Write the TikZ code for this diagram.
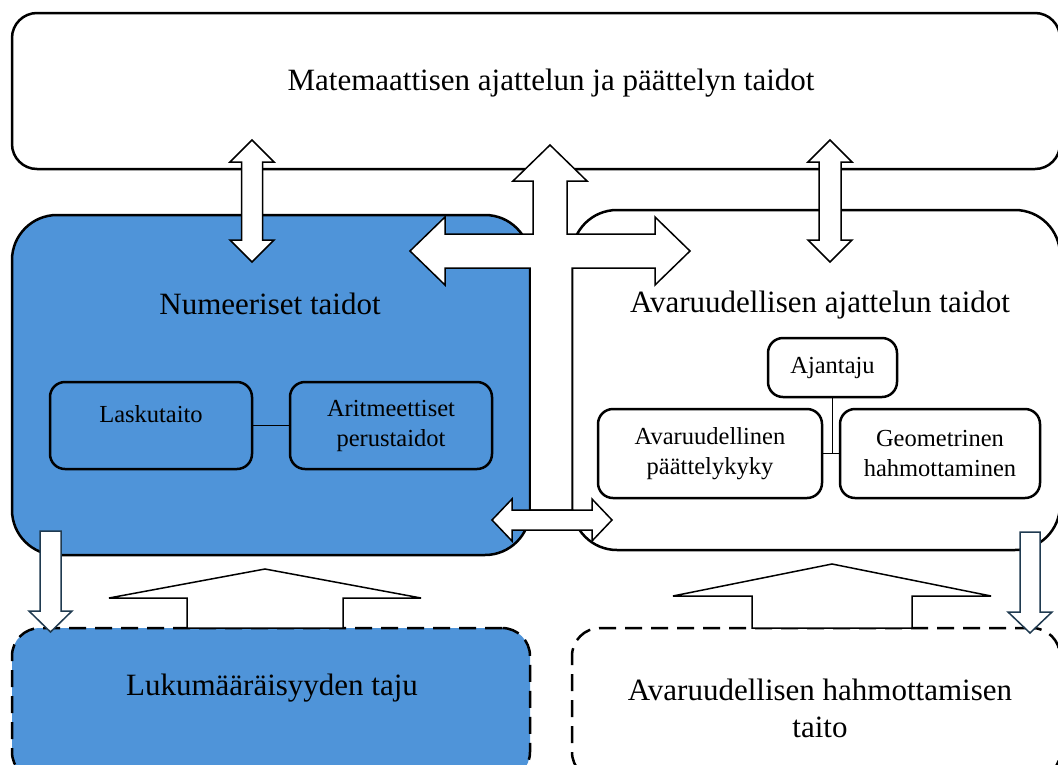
\documentclass[tikz,border=0pt]{standalone}
\usepackage{fontspec}
\setmainfont{Liberation Serif}
\usepackage{tikz}
\usetikzlibrary{positioning,calc}
\definecolor{numBlue}{RGB}{79,148,217}
\definecolor{downTeal}{RGB}{31,58,80}
\tikzset{
  %% Area boxes
  areaBox/.style={draw=black, line width=2.5pt, rounded corners=45pt, inner sep=0pt},
  topBox/.style={draw=black, line width=2.5pt, rounded corners=25pt, inner sep=0pt},
  baseBox/.style={draw=black, line width=2.5pt, rounded corners=28pt, inner sep=0pt,
    dash pattern=on 17pt off 9pt},
  %% Skill boxes inside the areas
  skillBox/.style={draw=black, line width=2.5pt, rounded corners=15pt, align=center,
    font=\fontsize{24.5}{30}\selectfont},
  areaLbl/.style={align=center, font=\fontsize{31}{37}\selectfont},
  %% Links and block arrows
  skillLink/.style={draw=black, line width=1.2pt},
  blkArrow/.style={draw=black, fill=white, line width=1.5pt, line join=miter},
  downArrow/.style={draw=downTeal, fill=white, line width=1.5pt, line join=miter},
}
\begin{document}
\begin{tikzpicture}[x=1pt, y=-1pt]
\useasboundingbox (0,0) rectangle (1058,764);

%% Areas
\node[topBox, minimum width=1048pt, minimum height=156pt] (pMath) at (536,91) {};
\node[areaBox, fill=numBlue, minimum width=518pt, minimum height=340pt] (pNum) at (271,385) {};
\node[areaBox, fill=white, minimum width=488pt, minimum height=340pt] (pSpace) at (816,380) {};
\node[baseBox, fill=numBlue, minimum width=518pt, minimum height=152pt] (pCount) at (271,704) {};
\node[baseBox, fill=white, minimum width=488pt, minimum height=152pt] (pShape) at (816,704) {};

\node[areaLbl] (lMath)  at (551,83)  {Matemaattisen ajattelun ja päättelyn taidot};
\node[areaLbl] (lNum)   at (270,304) {Numeeriset taidot};
\node[areaLbl] (lSpace) at (820,305) {Avaruudellisen ajattelun taidot};
\node[areaLbl] (lCount) at (272,688) {Lukumääräisyyden taju};
\node[areaLbl] (lShape) at (820,708) {Avaruudellisen hahmottamisen\\taito};

%% Skills
\node[skillBox, minimum width=202pt, minimum height=87pt] (sCalc)  at (151,425.5) {Laskutaito\\[-16pt]\strut};
\node[skillBox, minimum width=202pt, minimum height=87pt] (sArith) at (391,425.5) {Aritmeettiset\\perustaidot};
\node[skillBox, minimum width=129pt, minimum height=59pt] (sTime)  at (832.5,367.5) {Ajantaju};
\node[skillBox, minimum width=224pt, minimum height=89pt] (sReason) at (710,453.5) {Avaruudellinen\\päättelykyky};
\node[skillBox, minimum width=200pt, minimum height=89pt] (sGeom)  at (940,453.5) {Geometrinen\\hahmottaminen};

\draw[skillLink] (sCalc.east) -- (sArith.west);
\draw[skillLink] (sTime.south) -- (sTime.south |- sReason.east);
\draw[skillLink] (sReason.east) -- (sGeom.west);

%% Two-way arrows to the top area
\draw[blkArrow] (252,140) -- (274,162) -- (262.5,162) -- (262.5,240) -- (274,240) -- (252,262)
  -- (230,240) -- (241.5,240) -- (241.5,162) -- (230,162) -- cycle;
\draw[blkArrow] (830,140) -- (852,162) -- (841,162) -- (841,240) -- (852,240) -- (830,262)
  -- (808,240) -- (819,240) -- (819,162) -- (808,162) -- cycle;

%% Cross arrow between the areas
\draw[blkArrow] (550,145) -- (587,181) -- (567,181) -- (567,234) -- (655,234) -- (655,217)
  -- (690,251) -- (655,285) -- (655,268) -- (572,268) -- (572,510) -- (530,510) -- (530,268)
  -- (445,268) -- (445,285) -- (410,251) -- (445,217) -- (445,234) -- (533,234) -- (533,181)
  -- (513,181) -- cycle;
\draw[blkArrow] (492,520) -- (512,499) -- (512,510) -- (592,510) -- (592,499) -- (612,520)
  -- (592,541) -- (592,530) -- (512,530) -- (512,541) -- cycle;

%% Down arrows
\draw[downArrow] (40,531) -- (61,531) -- (61,611) -- (72,611) -- (50.5,632) -- (29,611) -- (40,611) -- cycle;
\draw[downArrow] (1020,532) -- (1040,532) -- (1040,612) -- (1052,612) -- (1030,633) -- (1008,612) -- (1020,612) -- cycle;

%% Wide up arrows from the base skills
\draw[blkArrow] (265,569) -- (421,598) -- (343,598) -- (343,628) -- (187,628) -- (187,598) -- (109,598) -- cycle;
\draw[blkArrow] (832,564) -- (991,596) -- (912,596) -- (912,628) -- (752,628) -- (752,596) -- (673,596) -- cycle;

\end{tikzpicture}
\end{document}
